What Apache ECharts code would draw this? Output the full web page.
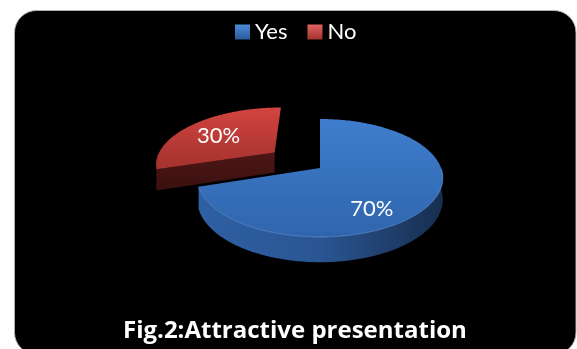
<!DOCTYPE html>
<html>
<head>
<meta charset="utf-8">
<script src="https://cdn.jsdelivr.net/npm/echarts@6/dist/echarts.min.js"></script>
<style>
  html, body { margin: 0; padding: 0; background: #ffffff; }
  #chart { width: 577px; height: 349px; }
</style>
</head>
<body>
<div id="chart"></div>
<script>
// Survey answers: share of respondents per answer (percent)
const categories = ['Yes', 'No'];
const shares = [70, 30];
const chartTitle = 'Fig.2:Attractive presentation';

// Look of each slice (top face, cut face, outer wall) and how far it is pulled out
const sliceStyles = [
  { top: ['#3f7ecd', '#2f65ad'], cut: ['#2c5a98', '#1e3c66'], wall: ['#2e60a4', '#2a5592', '#172e4f'], legend: ['#4d8ad6', '#2a5b9c'], explode: 0, labelShift: [-14, 18], rim: '#6b9fe0' },
  { top: ['#d2443f', '#a3322f'], cut: ['#4d1715', '#3a100f'], wall: ['#5a1b19', '#4a1513', '#3a0f0e'], legend: ['#e06461', '#a3322f'], explode: 0.486, labelShift: [-3, 2], rim: null }
];

// Perspective disc: centre, radii, foreshortening and thickness
const DISC = { cx: 320, cy: 168, rx: 121, ry: 57.3, k: 0.169, depth: 21 };

function project(u, v, down) {
  const w = 1 + DISC.k * v;
  return [DISC.cx + DISC.rx * u / w, DISC.cy - DISC.ry * v / w + DISC.depth * down / w];
}

const total = shares.reduce((a, b) => a + b, 0);
const DEG = Math.PI / 180;

function lin(stops, horizontal) {
  return {
    type: 'linear', x: 0, y: 0, x2: horizontal ? 1 : 0, y2: horizontal ? 0 : 1,
    colorStops: stops.map((c, i) => ({ offset: stops.length === 1 ? 0 : i / (stops.length - 1), color: c }))
  };
}

function makeRenderer(idx) {
  return function (params, api) {
    const value = api.value(0);
    let before = 0;
    for (let i = 0; i < idx; i++) before += shares[i];
    const a0 = 90 - 360 * before / total;
    const a1 = 90 - 360 * (before + value) / total;
    const lo = a1 * DEG, hi = a0 * DEG;
    const mid = (lo + hi) / 2;
    const st = sliceStyles[idx];
    const ox = st.explode * Math.cos(mid), oy = st.explode * Math.sin(mid);
    const pt = (phi, r, down) => project(ox + r * Math.cos(phi), oy + r * Math.sin(phi), down);

    const children = [];
    const steps = Math.max(8, Math.ceil((hi - lo) / DEG));
    const angles = [];
    for (let s = 0; s <= steps; s++) angles.push(lo + (hi - lo) * s / steps);

    // cut faces that turn towards the viewer
    const cutFaces = [
      { phi: lo, nv: -Math.cos(lo) },
      { phi: hi, nv: Math.cos(hi) }
    ];
    cutFaces.forEach(f => {
      if (f.nv < -0.01) {
        children.push({
          type: 'polygon',
          shape: { points: [pt(0, 0, 0), pt(f.phi, 1, 0), pt(f.phi, 1, 1), pt(0, 0, 1)] },
          style: { fill: lin(st.cut, false) }
        });
      }
    });

    // outer wall on the near half of the disc
    let run = [];
    const flush = () => {
      if (run.length > 1) {
        const topPts = run.map(a => pt(a, 1, 0));
        const botPts = run.slice().reverse().map(a => pt(a, 1, 1));
        children.push({
          type: 'polygon',
          shape: { points: topPts.concat(botPts) },
          style: { fill: lin(st.wall, true) }
        });
      }
      run = [];
    };
    angles.forEach(a => {
      if (Math.sin(a) <= 0.0001) run.push(a); else flush();
    });
    flush();

    // top face
    const topFace = [pt(0, 0, 0)].concat(angles.map(a => pt(a, 1, 0)));
    children.push({
      type: 'polygon',
      shape: { points: topFace },
      style: { fill: lin(st.top, false) }
    });

    // light rim along the front edge of the top face
    if (st.rim) {
      const nearTop = angles.filter(a => Math.sin(a) < 0).map(a => pt(a, 1, 0));
      if (nearTop.length > 1) {
        children.push({
          type: 'polyline',
          shape: { points: nearTop },
          style: { stroke: st.rim, lineWidth: 1, opacity: 0.6, fill: null }
        });
      }
    }

    // percentage label
    const lp = pt(mid, 0.63, 0);
    children.push({
      type: 'text',
      x: lp[0] + st.labelShift[0],
      y: lp[1] + st.labelShift[1],
      style: {
        text: value + '%',
        fill: '#ffffff',
        font: '22px Lato, "Open Sans", sans-serif',
        align: 'center',
        verticalAlign: 'middle'
      }
    });

    return { type: 'group', children: children };
  };
}

const chart = echarts.init(document.getElementById('chart'), null, { renderer: 'canvas' });

// the far (pulled-out) slice is drawn first so the near slice overlaps it
const series = categories.map((name, i) => ({
  name: name,
  type: 'custom',
  coordinateSystem: 'none',
  data: [shares[i]],
  renderItem: makeRenderer(i),
  color: sliceStyles[i].legend[1],
  z: i === 0 ? 4 : 3,
  silent: true
}));

chart.setOption({
  animation: false,
  backgroundColor: '#ffffff',
  graphic: [{
    type: 'rect',
    z: -10,
    shape: { x: 14.5, y: 10.5, width: 561.5, height: 344, r: 22 },
    style: { fill: '#000000', stroke: '#b0b0b0', lineWidth: 1 }
  }],
  title: {
    text: chartTitle,
    left: 123,
    top: 315,
    padding: 0,
    textStyle: { color: '#ffffff', fontSize: 24, fontWeight: 'bold', fontFamily: '"Open Sans", Lato, sans-serif', lineHeight: 32 }
  },
  legend: {
    data: categories.map((name, i) => ({ name: name, itemStyle: { color: lin(sliceStyles[i].legend, false) } })),
    icon: 'rect',
    left: 230,
    top: 16,
    itemWidth: 15,
    itemHeight: 15,
    itemGap: 20,
    textStyle: { color: '#ffffff', fontSize: 22, fontFamily: 'Lato, "Open Sans", sans-serif' }
  },
  series: series
});
</script>
</body>
</html>
